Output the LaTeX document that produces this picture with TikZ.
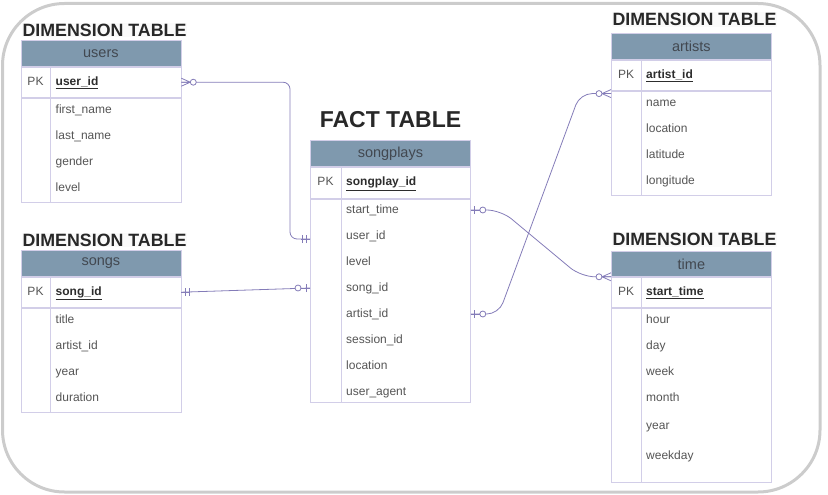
\documentclass[tikz,border=0pt]{standalone}
\usepackage{fontspec}
\setmainfont{Liberation Sans}
\usepackage{xcolor}
\usepackage{tikz}
\usetikzlibrary{positioning}

\definecolor{hdrblue}{RGB}{127,153,174}
\definecolor{hdrtext}{RGB}{66,72,80}
\definecolor{gridline}{RGB}{210,206,232}
\definecolor{relline}{RGB}{132,124,184}
\definecolor{fieldtext}{RGB}{85,85,85}
\definecolor{keytext}{RGB}{45,45,45}
\definecolor{titletext}{RGB}{40,40,40}
\definecolor{framegray}{RGB}{204,204,204}

\tikzset{
  hdr/.style={draw=gridline, line width=0.8pt, fill=hdrblue, text=hdrtext, font=\fontsize{14.5}{16}\selectfont,
    minimum width=160pt, minimum height=26pt, inner sep=0pt, anchor=north west},
  box/.style={draw=gridline, line width=0.8pt, fill=white, minimum width=160pt, inner sep=0pt},
  grid/.style={draw=gridline, line width=0.8pt},
  pkl/.style={text=fieldtext, font=\fontsize{12}{14}\selectfont, inner sep=0pt, text height=9pt, text depth=2.5pt},
  fld/.style={text=fieldtext, font=\fontsize{12}{14}\selectfont, inner sep=0pt, anchor=west,
    text height=9pt, text depth=2.5pt},
  keyfld/.style={fld, text=keytext},
  dimttl/.style={text=titletext, fill=black!2, inner sep=1pt, font=\fontsize{17.8}{20}\selectfont\bfseries},
  factttl/.style={text=titletext, inner sep=1pt, font=\fontsize{23}{26}\selectfont\bfseries},
  rel/.style={draw=relline, line width=0.8pt},
  frame/.style={draw=framegray, line width=3pt, rounded corners=62pt},
  zmany/.pic={
    \draw[rel] (0,-4) -- (9,0) -- (0,4) (0,0) -- (9,0);
    \draw[rel, fill=white] (12,0) circle (3pt);
  },
  oneone/.pic={
    \draw[rel] (0,0) -- (9,0) (4,-4) -- (4,4) (8,-4) -- (8,4);
  },
  zone/.pic={
    \draw[rel] (0,0) -- (9,0) (4,-4) -- (4,4);
    \draw[rel, fill=white] (12,0) circle (3pt);
  }
}

\begin{document}
\begin{tikzpicture}[x=1pt, y=-1pt]
  \useasboundingbox (0,0) rectangle (828,495);
  \draw[frame] (2.5,3.5) rectangle (820,492);

  % users
  \node[dimttl] (users-ttl) at (104.5,30) {DIMENSION TABLE};
  \node[hdr] (users) at (20.5,40) {users};
  \node[box, minimum height=30pt, below=0pt of users] (users-pk) {};
  \node[box, minimum height=104pt, below=0pt of users-pk] (users-body) {};
  \draw[grid] ([xshift=30pt]users-pk.north west) -- ([xshift=30pt]users-body.south west);
  \node[pkl] at ([xshift=15pt]users-pk.west) {PK};
  \node[keyfld] (users-id) at ([xshift=35pt]users-pk.west) {\underline{\textbf{user\_id}}};
  \foreach \f [count=\i] in {first\_name,last\_name,gender,level}
    \node[fld] at (55.5,84+26*\i) {\f};

  % songs
  \node[dimttl] (songs-ttl) at (104.5,240) {DIMENSION TABLE};
  \node[hdr] (songs) at (20.5,250) {songs};
  \node[box, minimum height=30pt, below=0pt of songs] (songs-pk) {};
  \node[box, minimum height=104pt, below=0pt of songs-pk] (songs-body) {};
  \draw[grid] ([xshift=30pt]songs-pk.north west) -- ([xshift=30pt]songs-body.south west);
  \node[pkl] at ([xshift=15pt]songs-pk.west) {PK};
  \node[keyfld] (songs-id) at ([xshift=35pt]songs-pk.west) {\underline{\textbf{song\_id}}};
  \foreach \f [count=\i] in {title,artist\_id,year,duration}
    \node[fld] at (55.5,294+26*\i) {\f};

  % songplays
  \node[factttl] (fact-ttl) at (390.5,120) {FACT TABLE};
  \node[hdr] (songplays) at (310,140) {songplays};
  \node[box, minimum height=31pt, below=0pt of songplays] (sp-pk) {};
  \node[box, minimum height=203pt, below=0pt of sp-pk] (sp-body) {};
  \draw[grid] ([xshift=31pt]sp-pk.north west) -- ([xshift=31pt]sp-body.south west);
  \node[pkl] at ([xshift=15.5pt]sp-pk.west) {PK};
  \node[keyfld] (sp-id) at ([xshift=36pt]sp-pk.west) {\underline{\textbf{songplay\_id}}};
  \foreach \f/\n [count=\i] in {start\_time/start,user\_id/user,level/level,song\_id/song,
      artist\_id/artist,session\_id/session,location/location,user\_agent/agent}
    \node[fld] (sp-\n) at (346,184+26*\i) {\f};

  % artists
  \node[dimttl] (artists-ttl) at (694.5,19.5) {DIMENSION TABLE};
  \node[hdr] (artists) at (611,33) {artists};
  \node[box, minimum height=30pt, below=0pt of artists] (artists-pk) {};
  \node[box, minimum height=104pt, below=0pt of artists-pk] (artists-body) {};
  \draw[grid] ([xshift=30pt]artists-pk.north west) -- ([xshift=30pt]artists-body.south west);
  \node[pkl] at ([xshift=15pt]artists-pk.west) {PK};
  \node[keyfld] (artists-id) at ([xshift=35pt]artists-pk.west) {\underline{\textbf{artist\_id}}};
  \foreach \f [count=\i] in {name,location,latitude,longitude}
    \node[fld] at (646,77+26*\i) {\f};
  \coordinate (artists-end) at ([yshift=-3pt]artists-pk.south west);

  % time
  \node[dimttl] (time-ttl) at (694.5,239.5) {DIMENSION TABLE};
  \node[hdr, minimum height=25pt] (time) at (611,251) {time};
  \node[box, minimum height=30pt, below=0pt of time] (time-pk) {};
  \node[box, minimum height=174pt, below=0pt of time-pk] (time-body) {};
  \draw[grid] ([xshift=30pt]time-pk.north west) -- ([xshift=30pt]time-body.south west);
  \node[pkl] at ([xshift=15pt]time-pk.west) {PK};
  \node[keyfld] (time-id) at ([xshift=35pt]time-pk.west) {\underline{\textbf{start\_time}}};
  \foreach \f/\y in {hour/320,day/346,week/372,month/398,year/426,weekday/456}
    \node[fld] at (646,\y) {\f};

  % relations
  \draw[rel, rounded corners=7pt] (users-id -| users.east)
    -| ([xshift=-20pt,yshift=-3pt]sp-user -| songplays.west) -- ([yshift=-3pt]sp-user -| songplays.west);
  \draw[rel] (songs-id -| songs.east) -- (sp-song -| songplays.west);
  \draw[rel, rounded corners=14pt] (sp-start -| songplays.east) -- ++(30,0)
    -- ([xshift=-30pt]time.south west) -- (time.south west);
  \draw[rel, rounded corners=12pt] (sp-artist -| songplays.east) -- ++(28,0)
    -- ([xshift=-31pt]artists-end) -- (artists-end);

  \pic at (users-id -| users.east) {zmany};
  \pic[rotate=180] at ([yshift=-3pt]sp-user -| songplays.west) {oneone};
  \pic at (songs-id -| songs.east) {oneone};
  \pic[rotate=180] at (sp-song -| songplays.west) {zone};
  \pic at (sp-start -| songplays.east) {zone};
  \pic[rotate=180] at (time.south west) {zmany};
  \pic at (sp-artist -| songplays.east) {zone};
  \pic[rotate=180] at (artists-end) {zmany};
\end{tikzpicture}
\end{document}
